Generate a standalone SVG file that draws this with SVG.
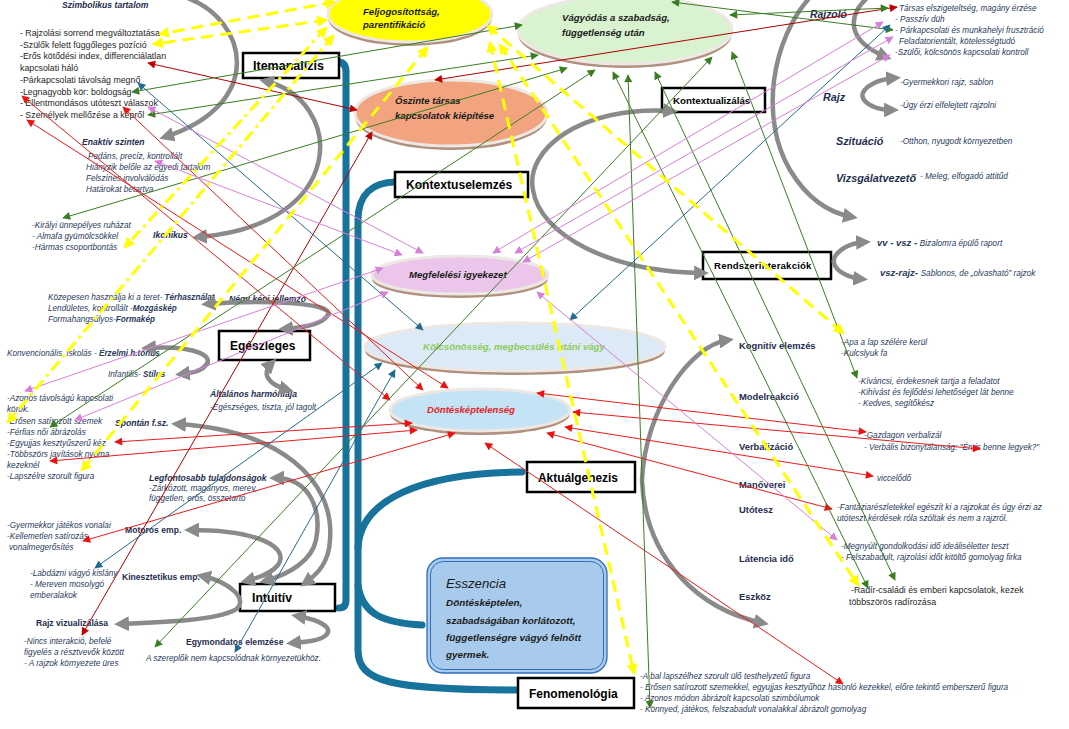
<svg xmlns="http://www.w3.org/2000/svg" width="1069" height="729" viewBox="0 0 1069 729">
<style>
text{font-family:"Liberation Sans",Arial,sans-serif}
.up{font-size:8.8px;fill:#1e1e1e}
.it{font-size:8.2px;font-style:italic;fill:#2a3a5a}
.hb{font-size:8.6px;font-weight:bold;font-style:italic;fill:#1f2d4d}
.hu{font-size:8.6px;font-weight:bold;fill:#1f2d4d}
.rh{font-size:10.8px;font-weight:bold;font-style:italic;fill:#1f2d4d}
.ku{font-size:9.4px;font-weight:bold;fill:#1f2d4d}
.bx{fill:#fff;stroke:#000;stroke-width:2.5}
.bt{font-weight:bold;fill:#000}
.et{font-size:9.6px;font-weight:bold;font-style:italic;fill:#1a1a1a}
.sh{fill:#b0907e}
.el{stroke:#eee8e4;stroke-width:3}
.bar{fill:none;stroke:#17729c;stroke-width:7;stroke-linecap:round}
.ga{fill:none;stroke:#8a8a8a;stroke-width:4.5;marker-start:url(#mg);marker-end:url(#mg)}
.ge{marker-start:none}
.c{fill:none;stroke-width:1}
.r{stroke:#ea1c1c;marker-start:url(#mr);marker-end:url(#mr)}
.d{stroke:#b00000;marker-start:url(#md);marker-end:url(#md)}
.g{stroke:#3b7d23;marker-start:url(#mgr);marker-end:url(#mgr)}
.b{stroke:#236b8e;marker-start:url(#mb);marker-end:url(#mb)}
.p{stroke:#d680d8;marker-start:url(#mp);marker-end:url(#mp)}
.y{fill:none;stroke:#ffff00;stroke-width:3;stroke-dasharray:12 7;marker-start:url(#my);marker-end:url(#my)}
.yd{stroke-dasharray:12 5 3 5}
</style>
<defs>
<marker id="mg" viewBox="0 0 10 10" refX="6" refY="5" markerWidth="3.3" markerHeight="3.3" orient="auto-start-reverse" markerUnits="strokeWidth"><path d="M0,0 L10,5 L0,10 z" fill="#8a8a8a"/></marker>
<marker id="mr" viewBox="0 0 10 10" refX="9" refY="5" markerWidth="9" markerHeight="8" orient="auto-start-reverse" markerUnits="userSpaceOnUse"><path d="M0,0 L10,5 L0,10 z" fill="#ee1111"/></marker>
<marker id="md" viewBox="0 0 10 10" refX="9" refY="5" markerWidth="9" markerHeight="8" orient="auto-start-reverse" markerUnits="userSpaceOnUse"><path d="M0,0 L10,5 L0,10 z" fill="#c00000"/></marker>
<marker id="mgr" viewBox="0 0 10 10" refX="9" refY="5" markerWidth="9" markerHeight="8" orient="auto-start-reverse" markerUnits="userSpaceOnUse"><path d="M0,0 L10,5 L0,10 z" fill="#3b7d23"/></marker>
<marker id="mb" viewBox="0 0 10 10" refX="9" refY="5" markerWidth="9" markerHeight="8" orient="auto-start-reverse" markerUnits="userSpaceOnUse"><path d="M0,0 L10,5 L0,10 z" fill="#236b8e"/></marker>
<marker id="mp" viewBox="0 0 10 10" refX="9" refY="5" markerWidth="9" markerHeight="8" orient="auto-start-reverse" markerUnits="userSpaceOnUse"><path d="M0,0 L10,5 L0,10 z" fill="#d680d8"/></marker>
<marker id="my" viewBox="0 0 10 10" refX="8" refY="5" markerWidth="12" markerHeight="11" orient="auto-start-reverse" markerUnits="userSpaceOnUse"><path d="M0,0 L10,5 L0,10 z" fill="#ffff00"/></marker>
</defs>
<rect width="1069" height="729" fill="#ffffff"/>

<!-- blue bars -->
<g id="bars">
<path class="bar" d="M338,62 Q346,62 346,72 L346,600 Q346,608 339,608"/>
<path class="bar" d="M396,182 C372,182 358,195 358,220 L358,650 C358,682 390,690 520,690"/>
<path class="bar" d="M358,548 C360,500 420,473 522,472"/>
<path class="bar" d="M358,585 C362,615 385,623 422,625"/>
</g>

<!-- ellipses -->
<g id="n-feljog"><ellipse class="sh" cx="410" cy="18" rx="82" ry="28"/><ellipse class="el" cx="410" cy="14" rx="82" ry="28" fill="#ffff00"/><text class="et" x="363" y="15">Feljogosítottság,</text><text class="et" x="363" y="28">parentifikáció</text></g>
<g id="n-vagyodas"><ellipse class="sh" cx="625" cy="34" rx="107" ry="34"/><ellipse class="el" cx="625" cy="30" rx="107" ry="34" fill="#d9f2d0"/><text class="et" x="562" y="21">Vágyódás a szabadság,</text><text class="et" x="562" y="36">függetlenség után</text></g>
<g id="n-oszinte"><ellipse class="sh" cx="451" cy="117" rx="96" ry="33"/><ellipse class="el" cx="451" cy="113" rx="96" ry="33" fill="#f1a47f"/><text class="et" x="395" y="104">Őszinte társas</text><text class="et" x="395" y="119">kapcsolatok kiépítése</text></g>
<g id="n-megfeleles"><ellipse class="sh" cx="460" cy="279" rx="88" ry="19"/><ellipse class="el" cx="460" cy="275" rx="88" ry="19" fill="#ebc6ea"/><text class="et" x="409" y="278">Megfelelési igyekezet</text></g>
<g id="n-kolcsonosseg"><ellipse class="sh" cx="515" cy="351" rx="150" ry="24"/><ellipse class="el" cx="515" cy="347" rx="150" ry="24" fill="#dceaf7"/><text class="et" x="423" y="350" style="fill:#8fcb5a">Kölcsönösség, megbecsülés utáni vágy</text></g>
<g id="n-dontes"><ellipse class="sh" cx="480" cy="414" rx="90" ry="21"/><ellipse class="el" cx="480" cy="410" rx="90" ry="21" fill="#c4e4f5"/><text class="et" x="427" y="413" style="fill:#e5232a">Döntésképtelenség</text></g>

<!-- boxes -->
<g id="n-itemanalizis"><rect class="bx" x="243" y="53" width="96" height="25"/><text class="bt" x="253" y="70" font-size="12.5">Itemanalízis</text></g>
<g id="n-kontextuselemzes"><rect class="bx" x="395" y="172" width="133" height="25"/><text class="bt" x="406" y="189" font-size="12.1">Kontextuselemzés</text></g>
<g id="n-kontextualizalas"><rect class="bx" x="662" y="88" width="103" height="24"/><text class="bt" x="673" y="104" font-size="9.8">Kontextualizálás</text></g>
<g id="n-rendszer"><rect class="bx" x="703" y="252" width="128" height="27"/><text class="bt" x="714" y="269" font-size="9.6" letter-spacing="0.2">Rendszerinterakciók</text></g>
<g id="n-egeszleges"><rect class="bx" x="219" y="331" width="91" height="29"/><text class="bt" x="230" y="350" font-size="12">Egészleges</text></g>
<g id="n-aktualgenezis"><rect class="bx" x="527" y="462" width="108" height="30"/><text class="bt" x="538" y="482" font-size="11.9">Aktuálgenezis</text></g>
<g id="n-intuitiv"><rect class="bx" x="240" y="584" width="95" height="27"/><text class="bt" x="252" y="602" font-size="12.2">Intuitív</text></g>
<g id="n-fenomenologia"><rect class="bx" x="518" y="678" width="116" height="30"/><text class="bt" x="529" y="698" font-size="12">Fenomenológia</text></g>
<g id="n-esszencia"><rect x="427" y="558" width="180" height="115" rx="16" fill="#a8caec" stroke="#2f6eba" stroke-width="1.3"/><rect x="430.5" y="561.5" width="173" height="108" rx="13" fill="none" stroke="#2f6eba" stroke-width="1"/><text x="446" y="588" font-size="13.2" font-style="italic" fill="#1a1a1a">Esszencia</text><text class="et" x="446" y="606" style="font-size:9.9px">Döntésképtelen,</text><text class="et" x="446" y="624" style="font-size:9.9px">szabadságában korlátozott,</text><text class="et" x="446" y="641" style="font-size:9.9px">függetlenségre vágyó felnőtt</text><text class="et" x="446" y="658" style="font-size:9.9px">gyermek.</text></g>

<!-- text nodes left -->
<g id="n-szimbolikus"><text class="hb" x="62" y="8">Szimbolikus tartalom</text>
<text class="up" x="20" y="36">- Rajzolási sorrend megváltoztatása</text>
<text class="up" x="20" y="48">-Szülők felett függőleges pozíció</text>
<text class="up" x="20" y="59">-Erős kötődési index, differenciálatlan</text>
<text class="up" x="20" y="71">kapcsolati háló</text>
<text class="up" x="20" y="83">-Párkapcsolati távolság megnő</text>
<text class="up" x="20" y="95">-Legnagyobb kör: boldogság</text>
<text class="up" x="20" y="106">- Ellentmondásos utóteszt válaszok</text>
<text class="up" x="20" y="118">- Személyek mellőzése a képről</text></g>
<g id="n-enaktiv"><text class="hb" x="82" y="145">Enaktív szinten</text>
<text class="it" x="88" y="159">Pedáns, precíz, kontrollált</text>
<text class="it" x="86" y="170">Hiányzik belőle az egyedi tartalom</text>
<text class="it" x="86" y="181">Felszínes involválódás</text>
<text class="it" x="86" y="192">Határokat betartva</text></g>
<g id="n-ikonikus"><text class="it" x="32" y="228">-Királyi ünnepélyes ruházat</text>
<text class="it" x="32" y="239">- Almafa gyümölcsökkel</text>
<text class="it" x="32" y="250">-Hármas csoportbontás</text>
<text class="hb" x="153" y="238">Ikonikus</text></g>
<g id="n-negykepi"><text class="it" x="48" y="300">Közepesen használja ki a teret-  <tspan font-weight="bold">Térhasználat</tspan></text>
<text class="it" x="48" y="311">Lendületes, kontrollált -<tspan font-weight="bold">Mozgáskép</tspan></text>
<text class="it" x="48" y="322">Formahangsúlyos-<tspan font-weight="bold">Formakép</tspan></text>
<text class="hb" x="229" y="302">Négy képi jellemzo</text>
<text class="it" x="7" y="356">Konvencionális, iskolás - <tspan font-weight="bold">Érzelmi h.tónus</tspan></text>
<text class="it" x="108" y="377">Infantilis- <tspan font-weight="bold">Stílus</tspan></text></g>
<g id="n-altalanos"><text class="hb" x="210" y="397">Általános harmóniája</text>
<text class="it" x="210" y="410">-Egészséges, tiszta, jól tagolt</text></g>
<g id="n-spontan"><text class="it" x="7" y="401">-Azonos távolságú kapcsolati</text>
<text class="it" x="7" y="412">körök.</text>
<text class="it" x="7" y="424">-Erősen satírozott szemek</text>
<text class="it" x="7" y="435">-Férfias női ábrázolás</text>
<text class="it" x="7" y="446">-Egyujjas kesztyűszerű kéz</text>
<text class="it" x="7" y="457">-Többszörs javítások nyoma</text>
<text class="it" x="7" y="468">kezeknél</text>
<text class="it" x="7" y="479">-Lapszélre szorult figura</text>
<text class="hb" x="115" y="426">Spontán f.sz.</text></g>
<g id="n-legfontosabb"><text class="hb" x="149" y="481">Legfontosabb tulajdonságok</text>
<text class="it" x="149" y="491">-Zárkózott, magányos, merev,</text>
<text class="it" x="149" y="501">független, erős, összetartó</text></g>
<g id="n-motoros"><text class="it" x="7" y="528">-Gyermekkor játékos vonalai</text>
<text class="it" x="7" y="539">-Kellemetlen satírozás,</text>
<text class="it" x="9" y="550">vonalmegerősítés</text>
<text class="hu" x="125" y="533">Motoros emp.</text></g>
<g id="n-kinesztetikus"><text class="it" x="30" y="576">-Labdázni vágyó kislány</text>
<text class="it" x="30" y="587">- Mereven mosolygó</text>
<text class="it" x="30" y="598">emberalakok</text>
<text class="hu" x="122" y="580">Kinesztetikus emp.</text></g>
<g id="n-rajzvizual"><text class="hu" x="36" y="626">Rajz vizualizálása</text>
<text class="it" x="24" y="644">-Nincs interakció, befelé</text>
<text class="it" x="24" y="655">figyelés a résztvevők között</text>
<text class="it" x="24" y="666">- A rajzok környezete üres</text></g>
<g id="n-egymondatos"><text class="hu" x="186" y="645">Egymondatos elemzése</text>
<text class="it" x="146" y="661">A szereplők nem kapcsolódnak környezetükhöz.</text></g>

<!-- text nodes right -->
<g id="n-rajzolo"><text class="rh" x="810" y="18" style="font-size:10.4px">Rajzoló</text>
<text class="it" x="899" y="11">Társas elszigeteltség, magány érzése</text>
<text class="it" x="895" y="22">- Passzív düh</text>
<text class="it" x="895" y="33">- Párkapcsolati és munkahelyi frusztráció</text>
<text class="it" x="899" y="44">Feladatorientált, kötelességtudó</text>
<text class="it" x="895" y="55">-Szülői, kölcsönös kapcsolati kontroll</text></g>
<g id="n-rajz"><text class="rh" x="823" y="101">Rajz</text>
<text class="it" x="900" y="85">-Gyermekkori rajz, sablon</text>
<text class="it" x="900" y="108">-Úgy érzi elfelejtett rajzolni</text></g>
<g id="n-szituacio"><text class="rh" x="836" y="145">Szituáció</text>
<text class="it" x="900" y="144">-Otthon, nyugodt környezetben</text></g>
<g id="n-vizsgalatvezeto"><text class="rh" x="836" y="182">Vizsgálatvezető</text>
<text class="it" x="920" y="179">- Meleg, elfogadó attitűd</text></g>
<g id="n-vv"><text class="it" x="877" y="246"><tspan font-weight="bold" font-size="9.5">vv - vsz - </tspan>Bizalomra épülő raport</text>
<text class="it" x="880" y="276"><tspan font-weight="bold" font-size="9.5">vsz-rajz- </tspan>Sablonos, de „olvasható” rajzok</text></g>
<g id="n-kognitiv"><text class="ku" x="739" y="349">Kognitív elemzés</text>
<text class="it" x="841" y="345">-Apa a lap szélére kerül</text>
<text class="it" x="841" y="356">-Kulcslyuk fa</text></g>
<g id="n-modelreakcio"><text class="ku" x="739" y="400">Modelreakció</text>
<text class="it" x="858" y="384">-Kíváncsi, érdekesnek tartja a feladatot</text>
<text class="it" x="858" y="395">-Kihívást és fejlődési lehetőséget lát benne</text>
<text class="it" x="858" y="406">- Kedves, segítőkész</text></g>
<g id="n-verbalizacio"><text class="ku" x="739" y="450">Verbalizáció</text>
<text class="it" x="864" y="438">-Gazdagon verbalizál</text>
<text class="it" x="864" y="450">- Verbális bizonytalanság: "Én is benne legyek?"</text></g>
<g id="n-manoverei"><text class="ku" x="739" y="488">Manőverei</text>
<text class="it" x="877" y="481">viccelődő</text></g>
<g id="n-utotesz"><text class="ku" x="739" y="513">Utótesz</text>
<text class="it" x="837" y="510">-Fantáziarészletekkel egészít ki a rajzokat és úgy érzi az</text>
<text class="it" x="837" y="521">utóteszt kérdések róla szóltak és nem a rajzról.</text></g>
<g id="n-latencia"><text class="ku" x="739" y="562">Látencia idő</text>
<text class="it" x="841" y="549">-Megnyúlt gondolkodási idő ideáliséletter teszt</text>
<text class="it" x="841" y="560">- Felszabadult, rajzolási időt kitöltő gomolyag firka</text></g>
<g id="n-eszkoz"><text class="ku" x="739" y="600">Eszköz</text>
<text class="up" x="851" y="593">-Radír-családi és emberi kapcsolatok, kezek</text>
<text class="up" x="849" y="605">többszörös radírozása</text></g>
<g id="n-fenom-text"><text class="it" x="640" y="679">-A bal lapszélhez szorult ülő testhelyzetű figura</text>
<text class="it" x="640" y="690">- Erősen satírozott szemekkel, egyujjas kesztyűhöz hasonló kezekkel,  előre tekintő emberszerű figura</text>
<text class="it" x="640" y="701">- Azonos módon ábrázolt kapcsolati szimbólumok</text>
<text class="it" x="640" y="712">- Könnyed, játékos, felszabadult vonalakkal ábrázolt gomolyag</text></g>

<!-- connectors -->
<g id="connectors">
<!-- gray arcs -->
<path class="ga ge" d="M185,-3 C250,20 265,105 165,137"/>
<path class="ga" d="M265,81 C345,100 350,225 198,237"/>
<path class="ga" d="M207,304 C260,300 335,302 328,315 C322,325 300,328 284,329"/>
<path class="ga" d="M147,348 C200,345 215,358 205,366 C200,372 190,373 181,374"/>
<path class="ga" d="M272,363 C260,375 270,385 288,390"/>
<path class="ga" d="M177,424 C280,430 335,480 330,540 C329,562 318,574 305,583"/>
<path class="ga" d="M275,478 C310,478 322,510 316,540 C312,560 290,574 265,581"/>
<path class="ga" d="M190,530 C260,530 290,548 278,565 C271,574 258,578 246,581"/>
<path class="ga" d="M202,576 C230,582 250,600 235,610 C215,620 170,622 120,624"/>
<path class="ga" d="M297,616 C320,620 335,628 325,636 C318,641 305,642 292,643"/>
<path class="ga" d="M672,111 C580,105 525,150 533,190 C540,235 610,272 703,273"/>
<path class="ga ge" d="M812,-5 C770,40 760,120 790,170 C805,195 825,212 852,217"/>
<path class="ga ge" d="M868,-3 C848,15 845,40 886,57"/>
<path class="ga" d="M895,78 C870,80 858,92 864,100 C870,107 880,110 893,110"/>
<path class="ga" d="M865,242 C845,243 832,255 834,263 C836,272 850,278 862,279"/>
<path class="ga" d="M728,340 C690,345 645,410 642,480 C645,560 700,610 763,623"/>

<!-- dark red -->
<line class="c d" x1="148" y1="63" x2="357" y2="110"/>
<line class="c d" x1="435" y1="80" x2="897" y2="7"/>
<line class="c d" x1="372" y1="132" x2="82" y2="635"/>
<!-- red -->
<line class="c r" x1="22" y1="96" x2="390" y2="400"/>
<line class="c r" x1="27" y1="120" x2="448" y2="388"/>
<line class="c r" x1="123" y1="107" x2="423" y2="390"/>
<line class="c r" x1="115" y1="442" x2="412" y2="423"/>
<line class="c r" x1="50" y1="461" x2="417" y2="430"/>
<line class="c r" x1="83" y1="541" x2="455" y2="433"/>
<line class="c r" x1="537" y1="393" x2="866" y2="432"/>
<line class="c r" x1="573" y1="412" x2="980" y2="449"/>
<line class="c r" x1="565" y1="427" x2="873" y2="476"/>
<line class="c r" x1="547" y1="433" x2="832" y2="509"/>
<line class="c r" x1="485" y1="443" x2="843" y2="684"/>
<!-- green -->
<line class="c g" x1="132" y1="92" x2="522" y2="25"/>
<line class="c g" x1="148" y1="115" x2="538" y2="55"/>
<line class="c g" x1="63" y1="218" x2="567" y2="68"/>
<line class="c g" x1="50" y1="427" x2="595" y2="70"/>
<line class="c g" x1="155" y1="647" x2="712" y2="57"/>
<line class="c g" x1="732" y1="52" x2="857" y2="378"/>
<line class="c g" x1="628" y1="75" x2="650" y2="708"/>
<line class="c g" x1="613" y1="72" x2="868" y2="588"/>
<line class="c g" x1="655" y1="72" x2="895" y2="580"/>
<line class="c g" x1="672" y1="2" x2="893" y2="30"/>
<line class="c g" x1="730" y1="15" x2="888" y2="8"/>
<!-- teal -->
<line class="c b" x1="138" y1="83" x2="423" y2="330"/>
<line class="c b" x1="570" y1="320" x2="890" y2="25"/>
<line class="c b" x1="382" y1="363" x2="95" y2="568"/>
<line class="c b" x1="395" y1="370" x2="235" y2="652"/>
<!-- pink -->
<line class="c p" x1="148" y1="107" x2="423" y2="253"/>
<line class="c p" x1="155" y1="161" x2="402" y2="255"/>
<line class="c p" x1="383" y1="268" x2="25" y2="391"/>
<line class="c p" x1="388" y1="292" x2="75" y2="420"/>
<line class="c p" x1="493" y1="253" x2="883" y2="22"/>
<line class="c p" x1="515" y1="253" x2="893" y2="37"/>
<line class="c p" x1="523" y1="262" x2="890" y2="55"/>
<line class="c p" x1="537" y1="292" x2="837" y2="540"/>
<!-- yellow -->
<line class="y ge" x1="334" y1="2" x2="160" y2="34"/>
<line class="y" x1="326" y1="20" x2="154" y2="44"/>
<line class="y yd" x1="326" y1="28" x2="125" y2="247"/>
<line class="y yd ge" x1="333" y1="36" x2="8" y2="422"/>
<line class="y" x1="427" y1="48" x2="82" y2="470"/>
<line class="y ge" x1="488" y1="26" x2="843" y2="333"/>
<line class="y ge" x1="500" y1="45" x2="858" y2="585"/>
<line class="y" x1="490" y1="43" x2="634" y2="673"/>
</g>
</svg>
